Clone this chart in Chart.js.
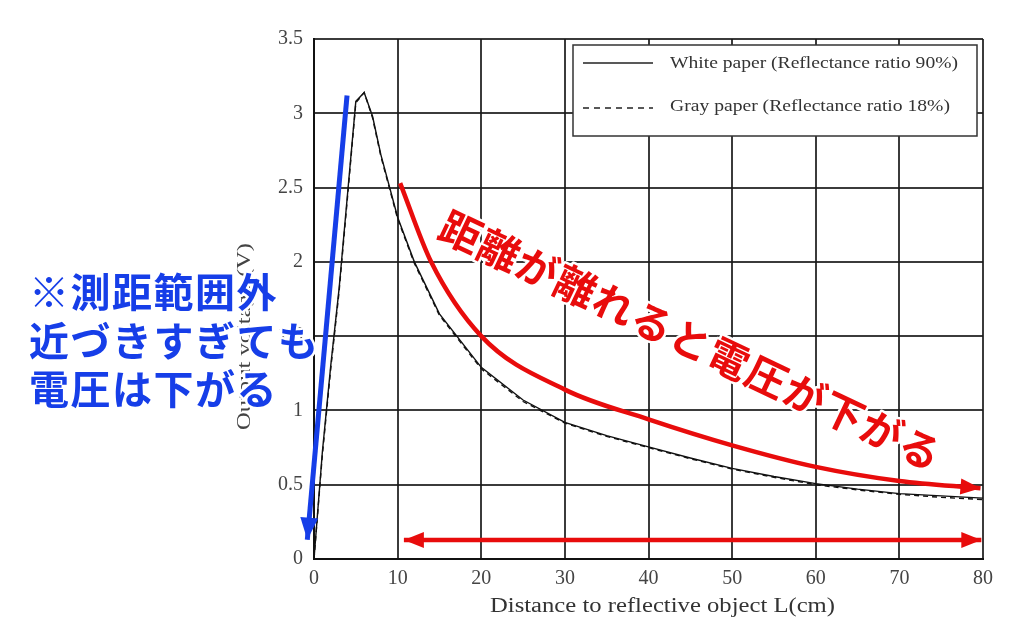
<!DOCTYPE html>
<html>
<head>
<meta charset="utf-8">
<script src="https://cdn.jsdelivr.net/npm/chart.js@4.4.0/dist/chart.umd.min.js"></script>
<style>
  html, body { margin: 0; padding: 0; background: #fff; }
  canvas { display: block; }
</style>
</head>
<body>
<canvas id="sensorChart" width="1024" height="643"></canvas>
<script>
// measured output of the distance sensor
const distance = [0, 1, 2, 3, 4, 5, 6, 7, 8, 10, 12, 15, 20, 25, 30, 35, 40, 45, 50, 55, 60, 65, 70, 75, 80];
const whitePaper = [0, 0.72, 1.3, 1.82, 2.45, 3.08, 3.14, 2.98, 2.72, 2.3, 2.0, 1.65, 1.29, 1.07, 0.92, 0.83, 0.755, 0.68, 0.61, 0.555, 0.507, 0.47, 0.44, 0.425, 0.41];
const grayPaper = [0, 0.70, 1.28, 1.80, 2.43, 3.07, 3.14, 2.97, 2.71, 2.29, 1.99, 1.64, 1.28, 1.06, 0.915, 0.825, 0.75, 0.675, 0.605, 0.55, 0.5, 0.465, 0.435, 0.415, 0.40];

// hand-drawn annotations (in data units)
const redCurveX = [10.3, 14, 20, 30, 40, 50, 60, 70, 79.7];
const redCurveY = [2.53, 2.0, 1.5, 1.14, 0.94, 0.765, 0.62, 0.525, 0.476];
const blueArrowX = [3.95, -0.8];
const blueArrowY = [3.12, 0.13];
const rangeArrowX = [10.75, 79.8];
const rangeArrowY = [0.128, 0.128];

const xTicks = [0, 10, 20, 30, 40, 50, 60, 70, 80];
const yTicks = [0, 0.5, 1, 1.5, 2, 2.5, 3, 3.5];

const legendLabels = ['White paper (Reflectance ratio 90%)', 'Gray paper (Reflectance ratio 18%)'];
const xTitle = 'Distance to reflective object L(cm)';
const yTitle = 'Output voltage (V)';
const blueNote = ['※測距範囲外', '近づきすぎても', '電圧は下がる'];
const redNote = '距離が離れると電圧が下がる';

const RED = 'rgb(232,12,12)';
const BLUE = 'rgb(22,62,232)';
const SERIF = '"Liberation Serif", "DejaVu Serif", serif';
const JP = '"Noto Sans CJK JP", "Noto Sans", sans-serif';

function pts(xs, ys) {
  return xs.map((x, i) => ({ x: x, y: ys[i] }));
}

function arrowHead(ctx, x0, y0, x1, y1, len, half, color) {
  const a = Math.atan2(y1 - y0, x1 - x0);
  ctx.save();
  ctx.translate(x1, y1);
  ctx.rotate(a);
  ctx.fillStyle = color;
  ctx.beginPath();
  ctx.moveTo(0, 0);
  ctx.lineTo(-len, -half);
  ctx.lineTo(-len, half);
  ctx.closePath();
  ctx.fill();
  ctx.restore();
}

function outlinedChar(ctx, ch, x, y, color) {
  ctx.lineJoin = 'round';
  ctx.lineWidth = 5;
  ctx.strokeStyle = '#fff';
  ctx.strokeText(ch, x, y);
  ctx.fillStyle = color;
  ctx.fillText(ch, x, y);
}

// text stretched horizontally to a given width, anchored at its left edge
function stretchedText(ctx, text, x, y, width) {
  const w = ctx.measureText(text).width;
  ctx.save();
  ctx.translate(x, y);
  ctx.scale(width / w, 1);
  ctx.textAlign = 'left';
  ctx.fillText(text, 0, 0);
  ctx.restore();
}

const extras = {
  id: 'extras',
  afterDatasetsDraw(chart) {
    const ctx = chart.ctx;
    const xs = chart.scales.x, ys = chart.scales.y;
    const area = chart.chartArea;
    const px = (x) => xs.getPixelForValue(x);
    const py = (y) => ys.getPixelForValue(y);

    // arrow heads
    let n = redCurveX.length;
    arrowHead(ctx, px(redCurveX[n - 2]), py(redCurveY[n - 2]), px(redCurveX[n - 1]), py(redCurveY[n - 1]), 20, 8, RED);
    arrowHead(ctx, px(rangeArrowX[0]), py(rangeArrowY[0]), px(rangeArrowX[1]), py(rangeArrowY[1]), 20, 8, RED);
    arrowHead(ctx, px(rangeArrowX[1]), py(rangeArrowY[1]), px(rangeArrowX[0]), py(rangeArrowY[0]), 20, 8, RED);
    arrowHead(ctx, px(blueArrowX[0]), py(blueArrowY[0]), px(blueArrowX[1]), py(blueArrowY[1]), 22, 9, BLUE);

    // legend box
    const bl = 573, bt = area.top + 6, br = area.right - 6, bb = area.top + 97;
    ctx.save();
    ctx.fillStyle = '#fff';
    ctx.fillRect(bl, bt, br - bl, bb - bt);
    ctx.strokeStyle = '#333';
    ctx.lineWidth = 1.5;
    ctx.strokeRect(bl, bt, br - bl, bb - bt);
    ctx.strokeStyle = '#222';
    ctx.lineWidth = 1.5;
    ctx.beginPath();
    ctx.moveTo(583, bt + 18); ctx.lineTo(653, bt + 18);
    ctx.stroke();
    ctx.setLineDash([6, 5]);
    ctx.beginPath();
    ctx.moveTo(583, bt + 63); ctx.lineTo(653, bt + 63);
    ctx.stroke();
    ctx.setLineDash([]);
    ctx.fillStyle = '#333';
    ctx.font = '17px ' + SERIF;
    ctx.textBaseline = 'middle';
    stretchedText(ctx, legendLabels[0], 670, bt + 19, 288);
    stretchedText(ctx, legendLabels[1], 670, bt + 62, 280);
    ctx.restore();

    // axis titles
    ctx.save();
    ctx.fillStyle = '#333';
    ctx.font = '20px ' + SERIF;
    ctx.textBaseline = 'middle';
    stretchedText(ctx, xTitle, 490, 607, 345);
    ctx.translate(245, 430);
    ctx.rotate(-Math.PI / 2);
    ctx.font = '18px ' + SERIF;
    ctx.fillStyle = '#444';
    stretchedText(ctx, yTitle, 0, 0, 187);
    ctx.restore();

    // blue note on the left
    ctx.save();
    ctx.font = 'bold 40px ' + JP;
    ctx.textAlign = 'center';
    ctx.textBaseline = 'middle';
    const lineY = [292, 341, 389];
    blueNote.forEach((line, li) => {
      Array.from(line).forEach((ch, ci) => {
        outlinedChar(ctx, ch, 49 + ci * 41.5, lineY[li], BLUE);
      });
    });
    ctx.restore();

    // red note along the curve
    ctx.save();
    ctx.font = 'bold 41px ' + JP;
    ctx.textAlign = 'center';
    ctx.textBaseline = 'middle';
    const ang = 25.3 * Math.PI / 180;
    Array.from(redNote).forEach((ch, i) => {
      const cx = 461 + i * 42.3 * Math.cos(ang);
      const cy = 232 + i * 42.3 * Math.sin(ang);
      ctx.save();
      ctx.translate(cx, cy);
      ctx.rotate(ang);
      outlinedChar(ctx, ch, 0, 0, RED);
      ctx.restore();
    });
    ctx.restore();
  }
};

const ctx = document.getElementById('sensorChart').getContext('2d');
const chart = new Chart(ctx, {
  type: 'line',
  data: {
    datasets: [
      {
        label: 'red curve',
        data: pts(redCurveX, redCurveY),
        borderColor: RED,
        borderWidth: 4.5,
        pointRadius: 0,
        cubicInterpolationMode: 'monotone',
        clip: false
      },
      {
        label: 'range',
        data: pts(rangeArrowX, rangeArrowY),
        borderColor: RED,
        borderWidth: 4.5,
        pointRadius: 0,
        clip: false
      },
      {
        label: 'blue arrow',
        data: pts(blueArrowX, blueArrowY),
        borderColor: BLUE,
        borderWidth: 5,
        pointRadius: 0,
        clip: false
      },
      {
        label: legendLabels[1],
        data: pts(distance, grayPaper),
        borderColor: '#111',
        borderWidth: 1.4,
        borderDash: [5, 4],
        pointRadius: 0,
        tension: 0
      },
      {
        label: legendLabels[0],
        data: pts(distance, whitePaper),
        borderColor: '#111',
        borderWidth: 1.4,
        pointRadius: 0,
        tension: 0
      }
    ]
  },
  options: {
    responsive: false,
    animation: false,
    layout: { padding: { left: 0, right: 41, top: 39, bottom: 0 } },
    plugins: {
      legend: { display: false },
      tooltip: { enabled: false }
    },
    scales: {
      x: {
        type: 'linear',
        min: 0,
        max: 80,
        afterFit: (s) => { s.height = 84; },
        afterBuildTicks: (s) => { s.ticks = xTicks.map(v => ({ value: v })); },
        grid: { color: 'rgba(25,25,25,0.85)', lineWidth: 2, drawTicks: false },
        border: { color: '#111', width: 2 },
        ticks: { padding: 8, color: '#444', font: { family: SERIF, size: 20 }, maxRotation: 0,
                 callback: (v) => String(v) }
      },
      y: {
        min: 0,
        max: 3.5,
        afterFit: (s) => { s.width = 314; },
        afterBuildTicks: (s) => { s.ticks = yTicks.map(v => ({ value: v })); },
        grid: { color: 'rgba(25,25,25,0.85)', lineWidth: 2, drawTicks: false },
        border: { color: '#111', width: 2 },
        ticks: { padding: 11, color: '#444', font: { family: SERIF, size: 20 },
                 callback: (v) => String(v) }
      }
    }
  },
  plugins: [extras]
});
</script>
</body>
</html>
